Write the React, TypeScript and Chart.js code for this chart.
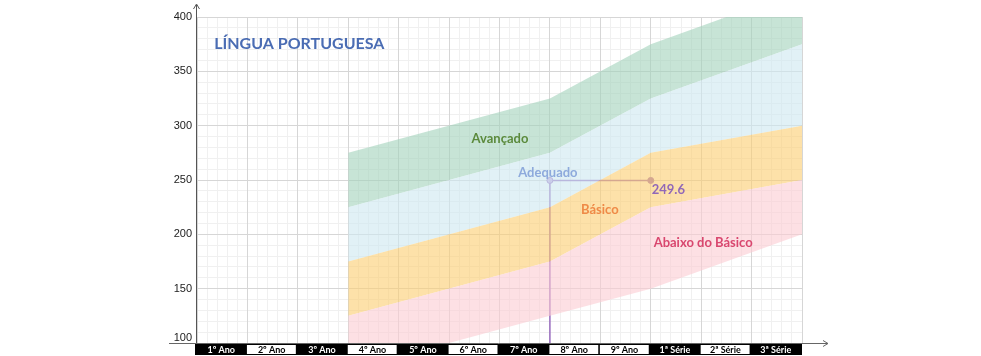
import React, { useEffect, useRef } from "react";
import { Chart, registerables } from "chart.js";

Chart.register(...registerables);

// ---- data ----
const categories = ["1º Ano", "2º Ano", "3º Ano", "4º Ano", "5º Ano", "6º Ano", "7º Ano", "8º Ano", "9º Ano", "1ª Série", "2ª Série", "3ª Série"];
const darkBoxes = [true, false, true, false, true, false, true, false, false, true, false, true];
const yTicks = [100, 150, 200, 250, 300, 350, 400];

const knotsX = [3, 7, 9, 12];
const abaixoLow = [75, 125, 150, 200];
const basicoLow = [125, 175, 225, 250];
const adequadoLow = [175, 225, 275, 300];
const avancadoLow = [225, 275, 325, 375];
const avancadoHigh = [275, 325, 375, 425];

const markerX = [7, 7, 9];
const markerY = [100, 249.6, 249.6];
const markerValue = "249.6";

const title = "LÍNGUA PORTUGUESA";

const levelLabels = [
  { text: "Avançado", x: 6.01, y: 287.5, color: "#5b8a3c" },
  { text: "Adequado", x: 6.96, y: 256.5, color: "#8eaadc" },
  { text: "Básico", x: 7.99, y: 222.4, color: "#ef8a47" },
  { text: "Abaixo do Básico", x: 10.04, y: 192, color: "#d9476f" },
];

const band = (vals: number[]) => knotsX.map((x, i) => ({ x, y: vals[i] }));

export default function App() {
  const ref = useRef<HTMLCanvasElement | null>(null);

  useEffect(() => {
    const canvas = ref.current;
    if (!canvas) return;

    const overlay = {
      id: "overlay",
      afterDraw(chart: any) {
        const ctx = chart.ctx as CanvasRenderingContext2D;
        const xs = chart.scales.x;
        const ys = chart.scales.y;
        const area = chart.chartArea;
        ctx.save();

        // axes lines
        ctx.strokeStyle = "#555";
        ctx.lineWidth = 1;
        ctx.beginPath();
        ctx.moveTo(area.left - 0.5, area.bottom);
        ctx.lineTo(area.left - 0.5, 5);
        ctx.stroke();
        ctx.beginPath();
        ctx.moveTo(area.left - 3.5, 9);
        ctx.lineTo(area.left - 0.5, 4);
        ctx.lineTo(area.left + 2.5, 9);
        ctx.stroke();

        ctx.strokeStyle = "#666";
        ctx.beginPath();
        ctx.moveTo(169, area.bottom + 0.5);
        ctx.lineTo(828, area.bottom + 0.5);
        ctx.stroke();
        ctx.beginPath();
        ctx.moveTo(823, area.bottom - 2.5);
        ctx.lineTo(828, area.bottom + 0.5);
        ctx.lineTo(823, area.bottom + 3.5);
        ctx.stroke();

        // y tick labels
        ctx.fillStyle = "#222";
        ctx.font = "11px 'Liberation Sans', Arial, sans-serif";
        ctx.textAlign = "right";
        ctx.textBaseline = "middle";
        yTicks.forEach((v) => {
          const py = ys.getPixelForValue(v) + (v === 100 ? -5 : 0);
          ctx.fillText(String(v), area.left - 5, py);
        });

        // category boxes
        const top = area.bottom + 1;
        const h = 11;
        ctx.font = "bold 9px Lato, 'Open Sans', sans-serif";
        ctx.textAlign = "center";
        ctx.textBaseline = "middle";
        categories.forEach((c, i) => {
          const x0 = xs.getPixelForValue(i) - 2;
          const x1 = xs.getPixelForValue(i + 1);
          ctx.fillStyle = "#000";
          ctx.fillRect(x0, top, x1 - x0, h);
          if (!darkBoxes[i]) {
            ctx.fillStyle = "#fff";
            ctx.fillRect(x0 + 1.5, top + 1, x1 - x0 - 3, h - 2);
          }
          ctx.fillStyle = darkBoxes[i] ? "#fff" : "#000";
          ctx.fillText(c, (x0 + x1) / 2, top + h / 2 + 0.5);
        });

        // title
        ctx.fillStyle = "#4a6cb3";
        ctx.font = "bold 16px Lato, 'Open Sans', sans-serif";
        ctx.textAlign = "left";
        ctx.fillText(title, xs.getPixelForValue(0.34), ys.getPixelForValue(375.2));

        // level labels
        ctx.font = "bold 13px Lato, 'Open Sans', sans-serif";
        ctx.textAlign = "center";
        levelLabels.forEach((l) => {
          ctx.fillStyle = l.color;
          ctx.fillText(l.text, xs.getPixelForValue(l.x), ys.getPixelForValue(l.y));
        });

        // marker value
        ctx.fillStyle = "#9168b8";
        ctx.textAlign = "left";
        ctx.fillText(markerValue, xs.getPixelForValue(markerX[2]) + 1, ys.getPixelForValue(markerY[2]) + 9);

        ctx.restore();
      },
    };

    const isWhole = (v: number, step: number) => Math.abs(v / step - Math.round(v / step)) < 1e-6;

    const chart = new Chart(canvas, {
      type: "line",
      data: {
        datasets: [
          { data: band(abaixoLow), borderWidth: 0, pointRadius: 0, fill: false },
          { data: band(basicoLow), borderWidth: 0, pointRadius: 0, fill: "-1", backgroundColor: "rgba(252,203,210,0.6)" },
          { data: band(adequadoLow), borderWidth: 0, pointRadius: 0, fill: "-1", backgroundColor: "rgba(252,205,112,0.6)" },
          { data: band(avancadoLow), borderWidth: 0, pointRadius: 0, fill: "-1", backgroundColor: "rgba(205,232,240,0.6)" },
          { data: band(avancadoHigh), borderWidth: 0, pointRadius: 0, fill: "-1", backgroundColor: "rgba(162,210,187,0.6)" },
          {
            data: markerX.map((x, i) => ({ x, y: markerY[i] })),
            borderColor: "#9b6fc1",
            borderWidth: 1.5,
            pointRadius: [0, 3, 3],
            pointBorderWidth: 1,
            pointBorderColor: "#9b6fc1",
            pointBackgroundColor: ["#9b6fc1", "rgba(200,170,225,0.9)", "#9b6fc1"],
            fill: false,
            clip: false as any,
          },
        ] as any,
      },
      options: {
        animation: false,
        responsive: false,
        maintainAspectRatio: false,
        layout: { padding: { left: 197, right: 179, top: 17, bottom: 13 } },
        plugins: { legend: { display: false }, tooltip: { enabled: false } },
        elements: { line: { tension: 0 } },
        scales: {
          x2: {
            type: "linear",
            axis: "x",
            position: "bottom",
            min: 0,
            max: 12,
            ticks: { display: false, stepSize: 0.2, autoSkip: false },
            grid: { drawTicks: false, color: (c: any) => (isWhole(c.tick.value, 1) ? "rgba(0,0,0,0)" : "#f0f0f0") },
            border: { display: false },
          },
          y2: {
            type: "linear",
            axis: "y",
            position: "left",
            min: 100,
            max: 400,
            ticks: { display: false, stepSize: 10, autoSkip: false },
            grid: { drawTicks: false, color: (c: any) => (isWhole(c.tick.value, 50) ? "rgba(0,0,0,0)" : "#f0f0f0") },
            border: { display: false },
          },
          x: {
            type: "linear",
            position: "bottom",
            min: 0,
            max: 12,
            ticks: { display: false, stepSize: 1, autoSkip: false },
            grid: { drawTicks: false, color: "#d6d6d6" },
            border: { display: false },
          },
          y: {
            type: "linear",
            position: "left",
            min: 100,
            max: 400,
            ticks: { display: false, stepSize: 50, autoSkip: false },
            grid: { drawTicks: false, color: "#d6d6d6" },
            border: { display: false },
          },
        } as any,
      },
      plugins: [overlay],
    });

    return () => chart.destroy();
  }, []);

  return (
    <div style={{ position: "absolute", left: 0, top: 0, width: 981, height: 356, background: "#fff" }}>
      <canvas ref={ref} width={981} height={356} style={{ display: "block", width: 981, height: 356 }} />
    </div>
  );
}
